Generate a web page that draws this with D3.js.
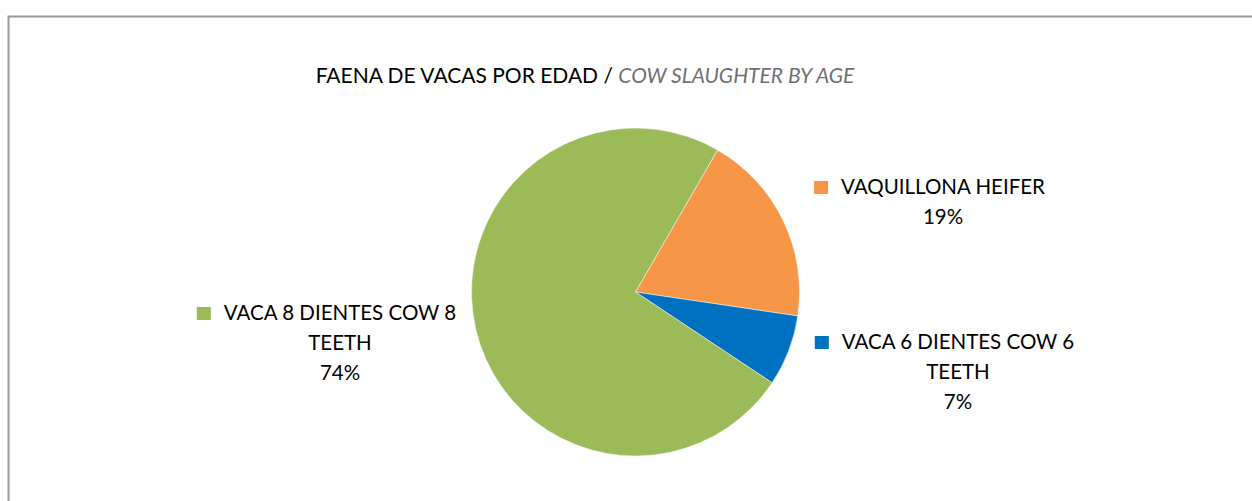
<!DOCTYPE html>
<html>
<head>
<meta charset="utf-8">
<script src="https://cdn.jsdelivr.net/npm/d3@7"></script>
<style>
  body { margin: 0; background: #fff; }
  text { font-family: Lato, "Open Sans", sans-serif; }
</style>
</head>
<body>
<div id="chart"></div>
<script>
// data
var categories = ["VAQUILLONA HEIFER", "VACA 6 DIENTES COW 6 TEETH", "VACA 8 DIENTES COW 8 TEETH"];
var labelLines = [["VAQUILLONA HEIFER"], ["VACA 6 DIENTES COW 6", "TEETH"], ["VACA 8 DIENTES COW 8", "TEETH"]];
var values = [19, 7, 74];
var colors = ["#F79646", "#0070C0", "#9BBB59"];

var width = 1252, height = 501;

var svg = d3.select("#chart").append("svg")
    .attr("width", width)
    .attr("height", height);

// chart border
svg.append("rect")
    .attr("x", 8.5)
    .attr("y", 16.5)
    .attr("width", 1260)
    .attr("height", 520)
    .attr("fill", "none")
    .attr("stroke", "#9a9a9a")
    .attr("stroke-width", 2);

// title
var title = svg.append("text")
    .attr("x", 585)
    .attr("y", 83)
    .attr("text-anchor", "middle")
    .style("font-size", "21px");
title.append("tspan").attr("fill", "#000").text("FAENA DE VACAS POR EDAD / ");
title.append("tspan").attr("fill", "#707070").style("font-style", "italic").text("COW SLAUGHTER BY AGE");

var cx = 635.5, cy = 292, radius = 164;

var pie = d3.pie()
    .sort(null)
    .startAngle(30 * Math.PI / 180)
    .endAngle(390 * Math.PI / 180);

var arc = d3.arc().innerRadius(0).outerRadius(radius);

var g = svg.append("g")
    .attr("transform", "translate(" + cx + "," + cy + ")");

g.selectAll("path")
    .data(pie(values))
    .enter()
    .append("path")
    .attr("d", arc)
    .attr("fill", function(d, i) { return colors[i]; })
    .attr("stroke", "#fff")
    .attr("stroke-width", 0.5);

// label layout (centre x of text block, baseline of first line)
var labelPos = [
    {x: 943, y: 194},
    {x: 958, y: 349},
    {x: 340, y: 320}
];

var total = d3.sum(values);

labelPos.forEach(function(p, i) {
    var lab = svg.append("g");
    var lines = labelLines[i].concat([Math.round(values[i] / total * 100) + "%"]);
    var txt = lab.append("text")
        .attr("text-anchor", "middle")
        .style("font-size", "20.5px")
        .attr("fill", "#000");
    lines.forEach(function(l, j) {
        txt.append("tspan")
            .attr("x", p.x)
            .attr("y", p.y + j * 30)
            .text(l);
    });
    // legend key square beside first line
    var w = txt.select("tspan").node().getComputedTextLength();
    lab.append("rect")
        .attr("x", p.x - w / 2 - 27)
        .attr("y", p.y - 13)
        .attr("width", 14)
        .attr("height", 13)
        .attr("fill", colors[i]);
});
</script>
</body>
</html>
